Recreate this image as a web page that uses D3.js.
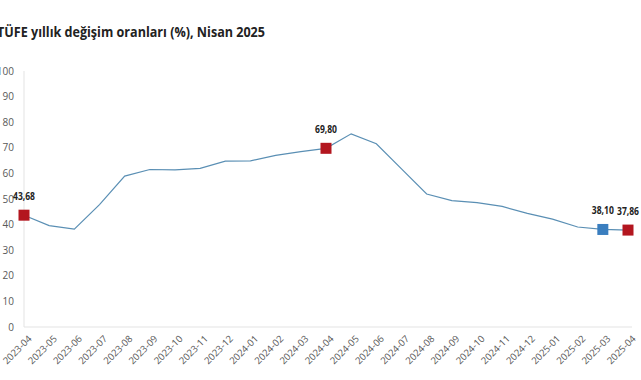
<!DOCTYPE html>
<html>
<head>
<meta charset="utf-8">
<script src="https://cdn.jsdelivr.net/npm/d3@7"></script>
<style>
  body { margin: 0; background: #fff; }
  text { font-family: "Open Sans", "Liberation Sans", sans-serif; }
</style>
</head>
<body>
<div id="chart"></div>
<script>
var months = ["2023-04","2023-05","2023-06","2023-07","2023-08","2023-09","2023-10","2023-11","2023-12",
              "2024-01","2024-02","2024-03","2024-04","2024-05","2024-06","2024-07","2024-08","2024-09",
              "2024-10","2024-11","2024-12","2025-01","2025-02","2025-03","2025-04"];
var values = [43.68,39.59,38.21,47.83,58.94,61.53,61.36,61.98,64.77,
              64.86,67.07,68.50,69.80,75.45,71.60,61.78,51.97,49.38,
              48.58,47.09,44.38,42.12,39.05,38.10,37.86];
var yTicks = [0,10,20,30,40,50,60,70,80,90,100];
// highlighted points: month -> colour
var highlight = {"2023-04": "#b3161f", "2024-04": "#b3161f", "2025-03": "#3a7ebf", "2025-04": "#b3161f"};
var labelled = ["2023-04", "2024-04", "2025-03", "2025-04"];

var width = 641, height = 380;
var svg = d3.select('#chart').append('svg')
    .attr('width', width).attr('height', height);

var x = d3.scalePoint().domain(months).range([24, 628]);
var y = d3.scaleLinear().domain([0, 100]).range([327, 71]);

svg.append('text')
    .attr('x', -3).attr('y', 37)
    .attr('font-size', 15).attr('font-weight', 'bold').attr('fill', '#222')
    .attr('textLength', 268).attr('lengthAdjust', 'spacingAndGlyphs')
    .text('TÜFE yıllık değişim oranları (%), Nisan 2025');

// axes lines
svg.append('line').attr('x1', 24).attr('x2', 24).attr('y1', y(100)).attr('y2', y(0))
    .attr('stroke', '#e3e3e3');
svg.append('line').attr('x1', 24).attr('x2', 632).attr('y1', y(0)).attr('y2', y(0))
    .attr('stroke', '#e3e3e3');

svg.selectAll('text.ytick').data(yTicks).enter().append('text')
    .attr('class', 'ytick')
    .attr('x', 14).attr('y', function(d) { return y(d); })
    .attr('dy', '0.35em').attr('text-anchor', 'end')
    .attr('font-size', 10).attr('fill', '#595959')
    .text(function(d) { return d; });

svg.selectAll('text.xtick').data(months).enter().append('text')
    .attr('class', 'xtick')
    .attr('transform', function(d) { return 'translate(' + (x(d) + 6) + ',337) rotate(-45)'; })
    .attr('dy', '0.35em').attr('text-anchor', 'end')
    .attr('font-size', 9.5).attr('fill', '#595959')
    .attr('textLength', 36).attr('lengthAdjust', 'spacingAndGlyphs')
    .text(function(d) { return d; });

var line = d3.line()
    .x(function(d, i) { return x(months[i]); })
    .y(function(d) { return y(d); });

svg.append('path').datum(values)
    .attr('d', line)
    .attr('fill', 'none').attr('stroke', '#5a8fb4').attr('stroke-width', 1.2);

var pts = months.map(function(m, i) { return {m: m, v: values[i]}; });

svg.selectAll('rect.mark').data(pts.filter(function(d) { return highlight[d.m]; })).enter().append('rect')
    .attr('class', 'mark')
    .attr('x', function(d) { return x(d.m) - 5.5; })
    .attr('y', function(d) { return y(d.v) - 5.5; })
    .attr('width', 11).attr('height', 11)
    .attr('fill', function(d) { return highlight[d.m]; });

svg.selectAll('text.lbl').data(pts.filter(function(d) { return labelled.indexOf(d.m) >= 0; })).enter().append('text')
    .attr('class', 'lbl')
    .attr('x', function(d) { return x(d.m); })
    .attr('y', function(d) { return y(d.v) - 15; })
    .attr('text-anchor', 'middle')
    .attr('font-size', 10).attr('font-weight', 'bold').attr('fill', '#222')
    .attr('textLength', 22).attr('lengthAdjust', 'spacingAndGlyphs')
    .text(function(d) { return d.v.toFixed(2).replace('.', ','); });
</script>
</body>
</html>
